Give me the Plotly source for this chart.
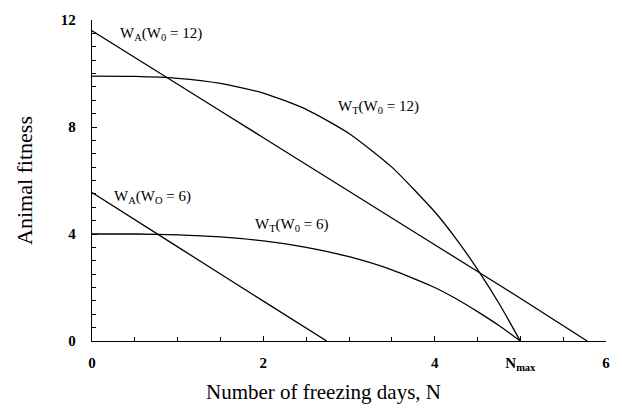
import plotly.graph_objects as go

# Data
wa12_x = [0, 1, 2, 3, 4, 5, 5.78]
wa12_y = [11.6, 9.6, 7.6, 5.6, 3.6, 1.6, 0]

wt12_x = [0, 0.5, 1, 1.5, 2, 2.5, 3, 3.5, 4, 4.25, 4.5, 4.75, 5.0]
wt12_y = [9.9, 9.89, 9.82, 9.63, 9.27, 8.66, 7.76, 6.50, 4.83, 3.82, 2.68, 1.41, 0]

wa6_x = [0, 1, 2, 2.74]
wa6_y = [5.55, 3.52, 1.49, 0]

wt6_x = [0, 0.5, 1, 1.5, 2, 2.5, 3, 3.5, 4, 4.25, 4.5, 4.75, 5.0]
wt6_y = [4.0, 4.0, 3.97, 3.89, 3.74, 3.5, 3.15, 2.66, 2.0, 1.58, 1.1, 0.58, 0]

x_tickvals = [0, 2, 4, 5, 6]
x_ticktext = ["0", "2", "4", "N<sub>max</sub>", "6"]
y_tickvals = [0, 4, 8, 12]

labels = [
    ("W<sub>A</sub>(W<sub>0</sub> = 12)", 0.81, 11.46),
    ("W<sub>T</sub>(W<sub>0</sub> = 12)", 3.34, 8.76),
    ("W<sub>A</sub>(W<sub>O</sub> = 6)", 0.71, 5.4),
    ("W<sub>T</sub>(W<sub>0</sub> = 6)", 2.33, 4.34),
]

FONT = "Liberation Serif"

fig = go.Figure()
for xs, ys in [(wa12_x, wa12_y), (wt12_x, wt12_y), (wa6_x, wa6_y), (wt6_x, wt6_y)]:
    fig.add_trace(go.Scatter(x=xs, y=ys, mode="lines", line=dict(color="black", width=1.3, shape="spline", smoothing=0.6), showlegend=False, hoverinfo="skip"))

for text, x, y in labels:
    fig.add_annotation(x=x, y=y, text=text, showarrow=False, font=dict(family=FONT, size=15, color="black"))

# x axis title placed to match the reference (slightly left of centre)
fig.add_annotation(xref="paper", yref="paper", x=0.45, y=-0.158, xanchor="center", yanchor="middle",
                   text="Number of freezing days, N", showarrow=False,
                   font=dict(family=FONT, size=21, color="black"))

fig.update_layout(
    width=622, height=408,
    margin=dict(l=92, r=12, t=12, b=67),
    plot_bgcolor="white", paper_bgcolor="white",
    font=dict(family=FONT, color="black"),
)
fig.update_xaxes(
    range=[0, 6], tickvals=x_tickvals, ticktext=x_ticktext,
    showline=True, linecolor="black", linewidth=1.3, showgrid=False, zeroline=False,
    ticks="inside", ticklen=5, tickcolor="black", ticklabelstandoff=8,
    minor=dict(dtick=0.5, tick0=0, ticks="inside", ticklen=4, tickcolor="black"),
    tickfont=dict(family=FONT, size=15, color="black", weight="bold"),
)
fig.update_yaxes(
    range=[0, 12], tickvals=y_tickvals,
    showline=True, linecolor="black", linewidth=1.3, showgrid=False, zeroline=False,
    ticks="inside", ticklen=5, tickcolor="black", ticklabelstandoff=12,
    minor=dict(dtick=0.5, tick0=0, ticks="inside", ticklen=4, tickcolor="black"),
    tickfont=dict(family=FONT, size=15, color="black", weight="bold"),
    title=dict(text="Animal fitness", font=dict(family=FONT, size=22, color="black"), standoff=22),
)

fig.write_html("out.html")
